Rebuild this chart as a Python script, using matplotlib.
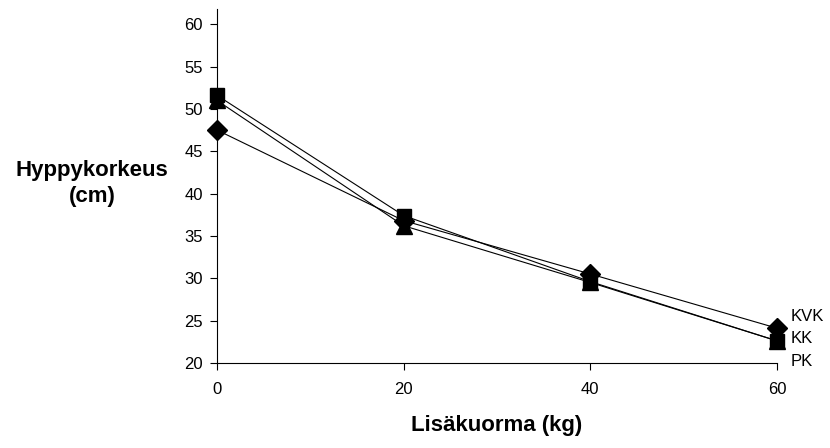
import matplotlib
matplotlib.use("Agg")
import matplotlib.pyplot as plt

plt.rcParams['font.family'] = ['Liberation Sans', 'DejaVu Sans']

# lisäkuorma (kg)
load = [0, 20, 40, 60]
# hyppykorkeus (cm)
kvk = [47.5, 36.8, 30.5, 24.1]
kk = [51.6, 37.4, 29.6, 22.6]
pk = [51.0, 36.2, 29.5, 22.6]
series_names = ['KVK', 'KK', 'PK']
x_ticks = [0, 20, 40, 60]
y_ticks = [20, 25, 30, 35, 40, 45, 50, 55, 60]

fig = plt.figure(figsize=(8.3, 4.48), dpi=100)
ax = fig.add_axes([0.2614, 0.19, 0.6747, 0.79])

ax.plot(load, kvk, color='black', lw=0.8, marker='D', ms=10, mfc='black', mec='black', clip_on=False)
ax.plot(load, pk, color='black', lw=0.8, marker='^', ms=11, mfc='black', mec='black', clip_on=False)
ax.plot(load, kk, color='black', lw=0.8, marker='s', ms=10.5, mfc='black', mec='black', clip_on=False)

# sarjojen nimet oikeaan reunaan
offsets = [(9.5, 8.5), (9.5, 1.5), (9.5, -15)]
for name, vals, off in zip(series_names, [kvk, kk, pk], offsets):
    ax.annotate(name, xy=(load[-1], vals[-1]), xytext=off, textcoords='offset points',
                fontsize=12, va='center', ha='left', annotation_clip=False)

ax.set_xlim(0, 60)
ax.set_ylim(20, 61.8)
ax.set_xticks(x_ticks)
ax.set_yticks(y_ticks)
ax.tick_params(axis='both', direction='out', length=5, width=0.8, labelsize=12, pad=5)
ax.tick_params(axis='x', pad=9)
ax.spines['top'].set_visible(False)
ax.spines['right'].set_visible(False)
ax.spines['left'].set_linewidth(0.8)
ax.spines['bottom'].set_linewidth(0.8)

ax.set_xlabel('Lisäkuorma (kg)', fontsize=16, fontweight='bold', labelpad=13)
fig.text(0.111, 0.59, 'Hyppykorkeus\n(cm)', fontsize=16, fontweight='bold',
         ha='center', va='center', linespacing=1.35)

fig.savefig('out.png', dpi=100)
